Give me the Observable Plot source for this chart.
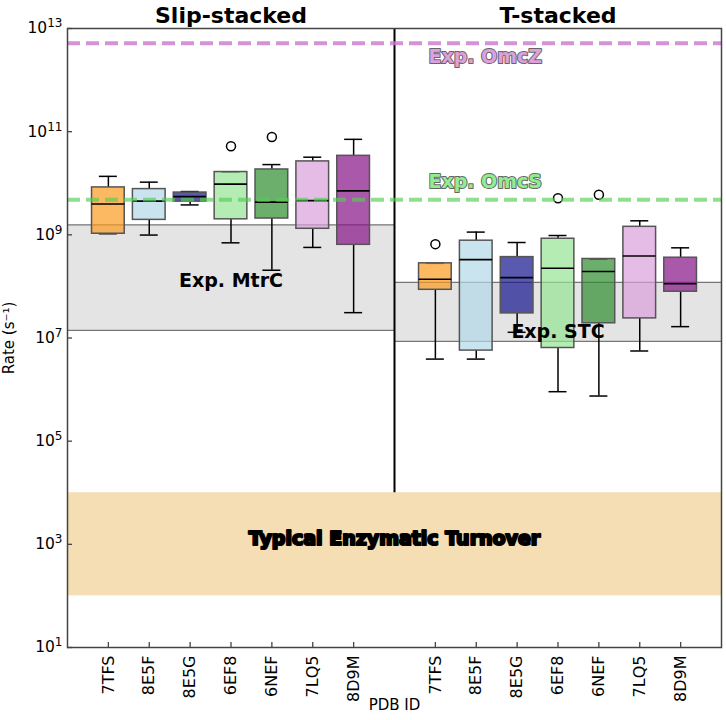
<!DOCTYPE html>
<html>
<head>
<meta charset="utf-8">
<script src="https://cdn.jsdelivr.net/npm/d3@7"></script>
<script src="https://cdn.jsdelivr.net/npm/@observablehq/plot@0.6"></script>
<style>
  html, body { margin: 0; padding: 0; background: white; }
  #chart svg { display: block; }
</style>
</head>
<body>
<div id="chart"></div>
<script>
// ---- data ----
const pdbIds = ["7TFS", "8E5F", "8E5G", "6EF8", "6NEF", "7LQ5", "8D9M"];
const groups = ["Slip-stacked", "T-stacked"];
const boxColors = ["#fc9a1f", "#b2d8e7", "#13138e", "#94e494", "#2e8d2e", "#da9fda", "#861386"];

// Slip-stacked statistics (s^-1)
const slipLow    = [1.05e9, 9.9e8, 3.8e9, 7.0e8, 2.06e8, 5.7e8, 3.1e7];
const slipQ1     = [1.05e9, 1.95e9, 4.4e9, 2.0e9, 2.07e9, 1.31e9, 6.4e8];
const slipMedian = [3.95e9, 4.5e9, 5.5e9, 9.6e9, 4.3e9, 4.6e9, 7.1e9];
const slipQ3     = [8.3e9, 7.7e9, 6.6e9, 1.65e10, 1.85e10, 2.65e10, 3.4e10];
const slipHigh   = [1.36e10, 1.05e10, 6.9e9, 1.65e10, 2.3e10, 3.2e10, 7.1e10];
const slipOutlierIds = ["6EF8", "6NEF"];
const slipOutlierValues = [5.2e10, 7.9e10];

// T-stacked statistics (s^-1)
const tLow    = [3.9e6, 3.9e6, 1.29e7, 9.1e5, 7.5e5, 5.6e6, 1.66e7];
const tQ1     = [8.6e7, 5.7e6, 3.0e7, 6.4e6, 1.93e7, 2.4e7, 7.9e7];
const tMedian = [1.38e8, 3.3e8, 1.48e8, 2.25e8, 1.94e8, 3.9e8, 1.13e8];
const tQ3     = [2.8e8, 7.7e8, 3.7e8, 8.4e8, 3.4e8, 1.43e9, 3.6e8];
const tHigh   = [2.8e8, 1.13e9, 7.1e8, 9.7e8, 3.4e8, 1.87e9, 5.6e8];
const tOutlierIds = ["7TFS", "6EF8", "6NEF"];
const tOutlierValues = [6.6e8, 5.1e9, 6.0e9];

// experimental references
const omczRate = 5.2e12;
const omcsRate = 4.8e9;
const mtrcRange = [1.4e7, 1.56e9];
const stcRange = [8.6e6, 1.2e8];
const enzymeRange = [1e2, 1e4];

const yTickValues = [1e1, 1e3, 1e5, 1e7, 1e9, 1e11, 1e13];

// ---- build tables ----
const slots = pdbIds.length + 1; // 7 boxes + gap per group
const posOf = (g, i) => g * slots + i + 1;
const stats = [
  [slipLow, slipQ1, slipMedian, slipQ3, slipHigh],
  [tLow, tQ1, tMedian, tQ3, tHigh]
];
const boxes = [];
stats.forEach(([lo, q1, md, q3, hi], g) => {
  pdbIds.forEach((id, i) => {
    boxes.push({group: groups[g], id, pos: posOf(g, i), color: boxColors[i],
      low: lo[i], q1: q1[i], median: md[i], q3: q3[i], high: hi[i]});
  });
});
const outliers = [
  ...slipOutlierIds.map((id, k) => ({pos: posOf(0, pdbIds.indexOf(id)), v: slipOutlierValues[k]})),
  ...tOutlierIds.map((id, k) => ({pos: posOf(1, pdbIds.indexOf(id)), v: tOutlierValues[k]}))
];
const xTicks = boxes.map(d => d.pos);
const xTickLabel = new Map(boxes.map(d => [d.pos, d.id]));
const xMax = slots * 2;
const divider = slots;

const sup = {"0":"⁰","1":"¹","2":"²","3":"³","4":"⁴","5":"⁵","6":"⁶","7":"⁷","8":"⁸","9":"⁹"};
const unsup = Object.fromEntries(Object.entries(sup).map(([k, v]) => [v, k]));
const fmtPow = v => "10" + String(Math.round(Math.log10(v))).split("").map(c => sup[c]).join("");

const halfBox = 0.4, halfCap = 0.22;
const yMin = 1e1, yMax = 1e13;

const bands = [
  {x1: 0, x2: divider, y1: mtrcRange[0], y2: mtrcRange[1]},
  {x1: divider, x2: xMax, y1: stcRange[0], y2: stcRange[1]}
];
const bandEdges = bands.flatMap(b => [{x1: b.x1, x2: b.x2, y: b.y1}, {x1: b.x1, x2: b.x2, y: b.y2}]);

const chart = Plot.plot({
  width: 726,
  height: 720,
  marginLeft: 67,
  marginRight: 5,
  marginTop: 28,
  marginBottom: 73,
  style: {fontFamily: "DejaVu Sans", fontSize: "14px", color: "black", background: "white"},
  x: {type: "linear", domain: [0, xMax], label: null},
  y: {type: "log", domain: [yMin, yMax], label: null},
  marks: [
    // typical enzymatic turnover band
    Plot.rect([{x1: 0, x2: xMax, y1: enzymeRange[0], y2: enzymeRange[1]}],
      {x1: "x1", x2: "x2", y1: "y1", y2: "y2", fill: "#f5deb3"}),
    // experimental MtrC / STC bands
    Plot.rect(bands, {x1: "x1", x2: "x2", y1: "y1", y2: "y2", fill: "#e4e4e4"}),
    Plot.ruleY(bandEdges, {x1: "x1", x2: "x2", y: "y", stroke: "#777", strokeWidth: 1.3}),
    // divider
    Plot.ruleX([{x: divider, y1: enzymeRange[1], y2: yMax}], {x: "x", y1: "y1", y2: "y2", stroke: "black", strokeWidth: 2}),
    // whiskers
    Plot.ruleX(boxes, {x: "pos", y1: "low", y2: "q1", stroke: "black", strokeWidth: 1.5}),
    Plot.ruleX(boxes, {x: "pos", y1: "q3", y2: "high", stroke: "black", strokeWidth: 1.5}),
    Plot.ruleY(boxes, {x1: d => d.pos - halfCap, x2: d => d.pos + halfCap, y: "low", stroke: "black", strokeWidth: 1.5}),
    Plot.ruleY(boxes, {x1: d => d.pos - halfCap, x2: d => d.pos + halfCap, y: "high", stroke: "black", strokeWidth: 1.5}),
    // boxes
    Plot.rect(boxes, {x1: d => d.pos - halfBox, x2: d => d.pos + halfBox, y1: "q1", y2: "q3",
      fill: "color", fillOpacity: 0.7, stroke: "#555", strokeWidth: 1.5}),
    // medians
    Plot.ruleY(boxes, {x1: d => d.pos - halfBox, x2: d => d.pos + halfBox, y: "median", stroke: "black", strokeWidth: 1.6}),
    // outliers
    Plot.dot(outliers, {x: "pos", y: "v", r: 4.5, stroke: "black", strokeWidth: 1.5, fill: "none"}),
    // experimental OmcZ / OmcS lines
    Plot.ruleY([{y: omczRate}], {x1: 0, x2: xMax, y: "y", stroke: "#cc77cc", strokeOpacity: 0.8, strokeWidth: 4, strokeDasharray: "13,6"}),
    Plot.ruleY([{y: omcsRate}], {x1: 0, x2: xMax, y: "y", stroke: "#55cc55", strokeOpacity: 0.65, strokeWidth: 4, strokeDasharray: "13,6"}),
    // annotations
    Plot.text([{x: 8.83, y: 2.8e12, t: "Exp. OmcZ"}], {x: "x", y: "y", text: "t", textAnchor: "start",
      fill: "#dda0dd", stroke: "#666", strokeWidth: 2, fontSize: 19, fontWeight: "bold"}),
    Plot.text([{x: 8.83, y: 1.04e10, t: "Exp. OmcS"}], {x: "x", y: "y", text: "t", textAnchor: "start",
      fill: "#90ee90", stroke: "#666", strokeWidth: 2, fontSize: 19, fontWeight: "bold"}),
    Plot.text([{x: 4, y: 1.3e8, t: "Exp. MtrC"}], {x: "x", y: "y", text: "t",
      fill: "black", fontSize: 19, fontWeight: "bold"}),
    Plot.text([{x: 12, y: 1.3e7, t: "Exp. STC"}], {x: "x", y: "y", text: "t",
      fill: "black", fontSize: 19, fontWeight: "bold"}),
    Plot.text([{x: divider, y: 1.3e3, t: "Typical Enzymatic Turnover"}], {x: "x", y: "y", text: "t",
      fill: "black", stroke: "black", strokeWidth: 2.2, fontSize: 19, fontWeight: "bold"}),
    // group titles
    Plot.text(groups.map((g, k) => ({x: k * slots + slots / 2, y: yMax, t: g})), {x: "x", y: "y", text: "t",
      lineAnchor: "bottom", dy: -6, fontSize: 22, fontWeight: "bold", fill: "black"}),
    // frame
    Plot.frame({stroke: "#444", strokeWidth: 1.5}),
    // inward ticks
    Plot.ruleX(xTicks.map(x => ({x, y: yMin})), {x: "x", y1: "y", y2: "y", insetBottom: 5, stroke: "#444", strokeWidth: 1.3}),
    Plot.ruleY(yTickValues.map(y => ({x: 0, y})), {y: "y", x1: "x", x2: "x", insetLeft: 5, stroke: "#444", strokeWidth: 1.3}),
    // axes
    Plot.axisY({ticks: yTickValues, tickFormat: fmtPow, tickSize: 0, tickPadding: 5, fontSize: 15, label: null}),
    Plot.axisX({ticks: xTicks, tickFormat: d => xTickLabel.get(d), tickRotate: -90, tickSize: 0, tickPadding: 8, fontSize: 16, label: null}),
    // axis titles
    Plot.text(["Rate (s⁻¹)"], {frameAnchor: "left", textAnchor: "middle", lineAnchor: "middle", dx: -58, rotate: -90, fontSize: 15, fill: "black"}),
    Plot.text(["PDB ID"], {frameAnchor: "bottom", textAnchor: "middle", lineAnchor: "middle", dy: 58, fontSize: 15, fill: "black"})
  ]
});
// y tick labels: base "10" with a raised exponent
d3.select(chart).selectAll('g[aria-label="y-axis tick label"]').attr("font-size", 15.5).style("font-size", "15.5px");
d3.select(chart).selectAll('g[aria-label="y-axis tick label"] text').each(function () {
  const el = d3.select(this);
  const s = el.text();
  const exp = s.slice(2).split("").map(c => unsup[c] ?? c).join("");
  el.text("10");
  el.append("tspan").attr("dy", "-0.5em").attr("font-size", "12px").text(exp);
});
d3.select(chart).selectAll('g[aria-label="x-axis tick label"]').attr("font-size", 16).style("font-size", "16px");
document.getElementById("chart").appendChild(chart);
</script>
</body>
</html>
